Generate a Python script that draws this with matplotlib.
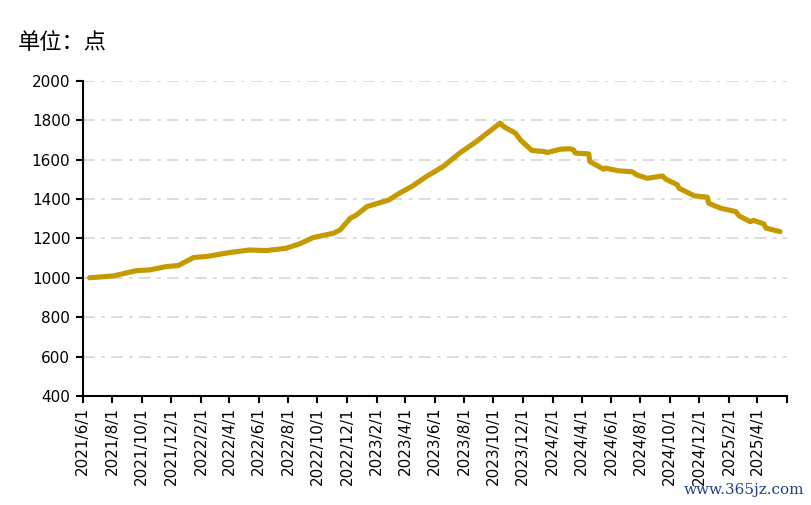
import matplotlib
matplotlib.use("Agg")
import matplotlib.pyplot as plt
import pandas as pd

plt.rcParams['font.family'] = ['Noto Sans CJK SC', 'DejaVu Sans']

# values (points)
dates = [
    "2021-06-15", "2021-08-03", "2021-09-20", "2021-10-18", "2021-11-22", "2021-12-16",
    "2022-01-17", "2022-02-13", "2022-04-02", "2022-05-13", "2022-06-17", "2022-07-28",
    "2022-08-25", "2022-09-22", "2022-11-03", "2022-11-17", "2022-12-08", "2022-12-21",
    "2023-01-12", "2023-02-09", "2023-02-26", "2023-03-20", "2023-04-17", "2023-05-15",
    "2023-06-19", "2023-07-23", "2023-08-27", "2023-10-15", "2023-10-22", "2023-11-16",
    "2023-11-26", "2023-12-20", "2024-01-14", "2024-01-21", "2024-02-18", "2024-03-08",
    "2024-03-15", "2024-03-19", "2024-04-16", "2024-04-18", "2024-05-17", "2024-05-20",
    "2024-06-17", "2024-07-15", "2024-07-25", "2024-08-15", "2024-09-16", "2024-09-23",
    "2024-10-17", "2024-10-20", "2024-11-21", "2024-12-18", "2024-12-21", "2025-01-15",
    "2025-02-15", "2025-02-22", "2025-03-17", "2025-03-24", "2025-04-14", "2025-04-19",
    "2025-05-18",
]
index = [
    1000, 1009, 1036, 1040, 1057, 1062,
    1103, 1108, 1128, 1141, 1138, 1150,
    1172, 1204, 1226, 1243, 1302, 1319,
    1362, 1382, 1395, 1429, 1467, 1514,
    1565, 1633, 1692, 1785, 1768, 1734,
    1700, 1646, 1641, 1636, 1653, 1655,
    1650, 1633, 1629, 1590, 1551, 1557,
    1543, 1538, 1522, 1505, 1517, 1500,
    1472, 1455, 1416, 1409, 1378, 1353,
    1336, 1314, 1285, 1291, 1274, 1252,
    1234,
]
yticks = [400, 600, 800, 1000, 1200, 1400, 1600, 1800, 2000]

x = pd.to_datetime(dates)
tick_dates = pd.date_range("2021-06-01", "2025-06-01", freq="2MS")
tick_labels = [f"{d.year}/{d.month}/1" for d in tick_dates]
tick_labels[-1] = ""

fig = plt.figure(figsize=(8.12, 5.05), dpi=100)
ax = fig.add_axes([0.102, 0.216, 0.867, 0.624])

for v in yticks[1:]:
    ax.axhline(v, color="#D9D9D9", lw=1.3, dashes=(6.5, 3.5, 2, 3.5), zorder=1)

ax.plot(x, index, color="#C49A00", lw=3.7, solid_capstyle="round",
        solid_joinstyle="round", zorder=3)

ax.set_ylim(400, 2000)
ax.set_yticks(yticks)
ax.set_xlim(pd.Timestamp("2021-06-01"), pd.Timestamp("2025-06-01"))
ax.set_xticks(tick_dates)
ax.set_xticklabels(tick_labels, rotation=90, fontsize=11, family="DejaVu Sans")
for lab in ax.get_yticklabels():
    lab.set_family("DejaVu Sans")
ax.tick_params(axis="y", labelsize=11, length=5, width=1.5, pad=4)
ax.tick_params(axis="x", length=5, width=1.5, pad=3)

for s in ["top", "right"]:
    ax.spines[s].set_visible(False)
for s in ["left", "bottom"]:
    ax.spines[s].set_linewidth(1.5)

fig.text(0.022, 0.915, "单位：点", fontsize=16, va="center", ha="left")
fig.text(0.99, 0.03, "www.365jz.com", fontsize=11, color="#1F3F8F",
         family="DejaVu Serif", ha="right", va="center")

fig.savefig("out.png", dpi=100)
